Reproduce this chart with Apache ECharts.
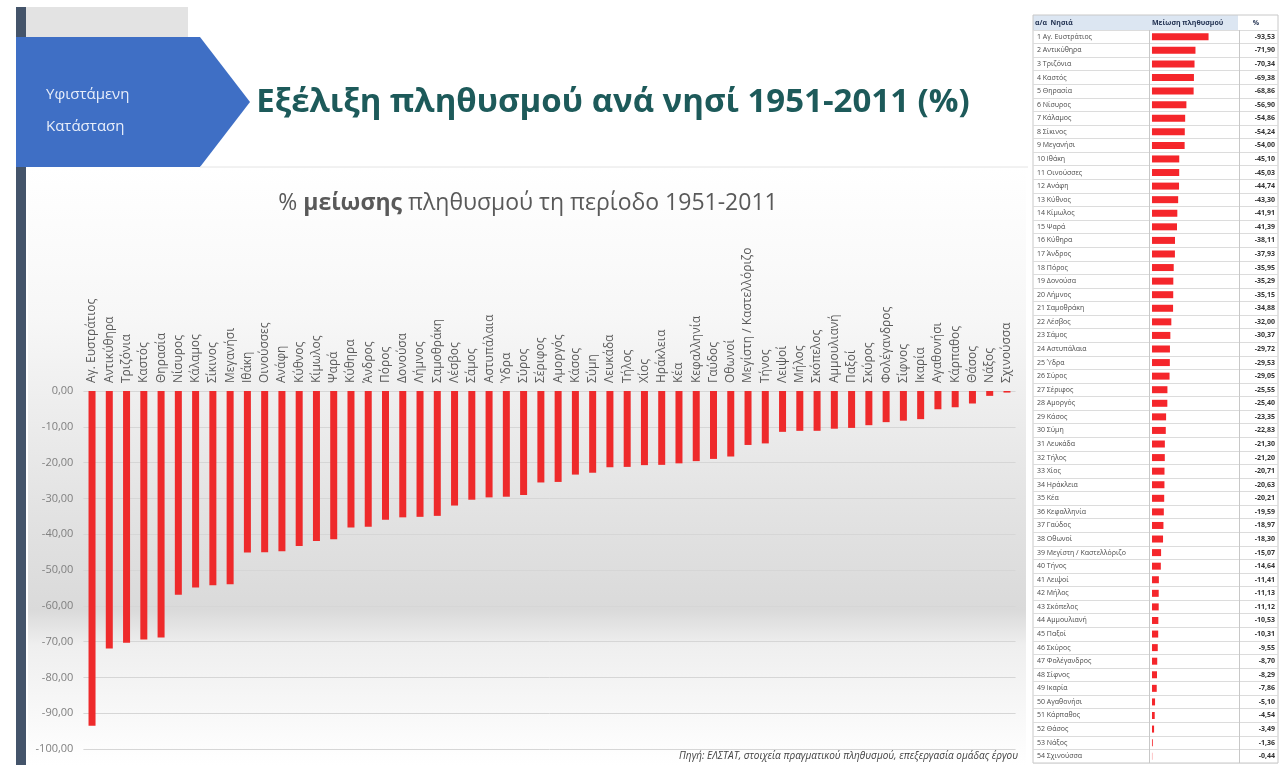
<!DOCTYPE html>
<html>
<head>
<meta charset="utf-8">
<script src="https://cdn.jsdelivr.net/npm/echarts@6/dist/echarts.min.js"></script>
<style>
html,body{margin:0;padding:0;background:#fff;}
#c{width:1281px;height:765px;}
</style>
</head>
<body>
<div id="c"></div>
<script>
var islands = ["Αγ. Ευστράτιος","Αντικύθηρα","Τριζόνια","Καστός","Θηρασία","Νίσυρος","Κάλαμος","Σίκινος","Μεγανήσι","Ιθάκη","Οινούσσες","Ανάφη","Κύθνος","Κίμωλος","Ψαρά","Κύθηρα","Άνδρος","Πόρος","Δονούσα","Λήμνος","Σαμοθράκη","Λέσβος","Σάμος","Αστυπάλαια","Ύδρα","Σύρος","Σέριφος","Αμοργός","Κάσος","Σύμη","Λευκάδα","Τήλος","Χίος","Ηράκλεια","Κέα","Κεφαλληνία","Γαύδος","Οθωνοί","Μεγίστη / Καστελλόριζο","Τήνος","Λειψοί","Μήλος","Σκόπελος","Αμμουλιανή","Παξοί","Σκύρος","Φολέγανδρος","Σίφνος","Ικαρία","Αγαθονήσι","Κάρπαθος","Θάσος","Νάξος","Σχινούσσα"];
var change = [-93.53,-71.90,-70.34,-69.38,-68.86,-56.90,-54.86,-54.24,-54.00,-45.10,-45.03,-44.74,-43.30,-41.91,-41.39,-38.11,-37.93,-35.95,-35.29,-35.15,-34.88,-32.00,-30.37,-29.72,-29.53,-29.05,-25.55,-25.40,-23.35,-22.83,-21.30,-21.20,-20.71,-20.63,-20.21,-19.59,-18.97,-18.30,-15.07,-14.64,-11.41,-11.13,-11.12,-10.53,-10.31,-9.55,-8.70,-8.29,-7.86,-5.10,-4.54,-3.49,-1.36,-0.44];
var yTicks = {min:-100, max:0, interval:10};
var tableHeader = ["α/α  Νησιά","Μείωση πληθυσμού","%"];
var titleText = "Εξέλιξη πληθυσμού ανά νησί 1951-2011 (%)";
var sourceText = "Πηγή: ΕΛΣΤΑΤ, στοιχεία πραγματικού πληθυσμού, επεξεργασία ομάδας έργου";

function fmt(v){ return v.toFixed(2).replace('.', ','); }

var chart = echarts.init(document.getElementById('c'), null, {renderer:'canvas'});
var font = "'Open Sans', 'Noto Sans', sans-serif";

var option = {
  animation:false,
  backgroundColor:'#ffffff',
  textStyle:{fontFamily:font},
  graphic:[
    {type:'rect', z:-10, silent:true, shape:{x:28,y:168,width:998,height:597},
     style:{fill:new echarts.graphic.LinearGradient(0,0,0,1,[
       {offset:0,color:'#ffffff'},{offset:0.25,color:'#f7f7f7'},{offset:0.55,color:'#e4e4e4'},
       {offset:0.74,color:'#dadada'},{offset:0.80,color:'#efefef'},{offset:1,color:'#ffffff'}])}},
    {type:'rect', silent:true, shape:{x:16,y:7,width:10,height:758}, style:{fill:'#44546a'}},
    {type:'rect', silent:true, shape:{x:26,y:7,width:162,height:30}, style:{fill:'#e3e3e3'}},
    {type:'polygon', silent:true, shape:{points:[[16,37],[200,37],[250,102],[200,167],[16,167]]}, style:{fill:'#3f6fc5'}},
    {type:'text', silent:true, style:{x:46,y:95,text:'Υφιστάμενη',fill:'#e8eefa',font:"15px 'Open Sans', sans-serif",verticalAlign:'middle'}},
    {type:'text', silent:true, style:{x:46,y:127,text:'Κατάσταση',fill:'#e8eefa',font:"15px 'Open Sans', sans-serif",verticalAlign:'middle'}},
    {type:'line', silent:true, shape:{x1:200,y1:167,x2:1028,y2:167}, style:{stroke:'#e4e4e4',lineWidth:1}},
    {type:'text', silent:true, style:{x:613,y:103,text:titleText,fill:'#1d5a5a',font:"bold 33px 'Open Sans', sans-serif",align:'center',verticalAlign:'middle'}},
    {type:'text', silent:true, style:{x:528,y:203,align:'center',verticalAlign:'middle',
      text:'% {b|μείωσης} πληθυσμού τη περίοδο 1951-2011',fill:'#595959',font:"23px 'Open Sans', sans-serif",
      rich:{b:{fontWeight:'bold',fontSize:23,fill:'#595959',fontFamily:font}}}},
    {type:'text', silent:true, style:{x:1018,y:756,text:sourceText,fill:'#404040',font:"italic 10px 'Open Sans', sans-serif",align:'right',verticalAlign:'middle'}},
    {type:'rect', silent:true, shape:{x:1033,y:15,width:205,height:15}, style:{fill:'#dce6f2'}},
    {type:'rect', silent:true, shape:{x:1033,y:15,width:245,height:748}, style:{fill:'none',stroke:'#c8c8c8',lineWidth:1}},
    {type:'text', silent:true, style:{x:1035,y:23,text:tableHeader[0],fill:'#1f2f4f',font:"bold 7px 'Open Sans', sans-serif",verticalAlign:'middle'}},
    {type:'text', silent:true, style:{x:1152,y:23,text:tableHeader[1],fill:'#1f2f4f',font:"bold 7px 'Open Sans', sans-serif",verticalAlign:'middle'}},
    {type:'text', silent:true, style:{x:1256,y:23,text:tableHeader[2],fill:'#1f2f4f',font:"bold 7px 'Open Sans', sans-serif",align:'center',verticalAlign:'middle'}}
  ],
  grid:[
    {left:83.4, right:265.4, top:391, bottom:16},
    {left:1033, right:3, top:30, height:733}
  ],
  xAxis:[
    {type:'category', gridIndex:0, position:'top', data:islands,
     axisLine:{show:false}, axisTick:{show:false},
     axisLabel:{interval:0, rotate:90, margin:8, color:'#5a5a5a', fontSize:12, fontFamily:font}},
    {type:'value', gridIndex:1, min:-196.67, max:208.33, show:false, splitLine:{show:false}}
  ],
  yAxis:[
    {type:'value', gridIndex:0, min:yTicks.min, max:yTicks.max, interval:yTicks.interval,
     axisLine:{show:false}, axisTick:{show:false},
     axisLabel:{formatter:fmt, color:'#808080', fontSize:11, margin:10, fontFamily:font},
     splitLine:{lineStyle:{color:'#d6d6d6'}}},
    {type:'category', gridIndex:1, data:islands, inverse:true, position:'left',
     axisLine:{show:false}, axisTick:{show:false},
     axisLabel:{inside:true, margin:4, color:'#4a4a4a', fontSize:7, fontFamily:font,
       formatter:function(v,i){ return (i+1)+' '+v; }},
     splitLine:{show:true, interval:0, lineStyle:{color:'#dcdcdc'}}},
    {type:'category', gridIndex:1, data:islands, inverse:true, position:'right',
     axisLine:{show:false}, axisTick:{show:false},
     axisLabel:{inside:true, margin:3, color:'#333', fontSize:7, fontWeight:'bold', fontFamily:font,
       formatter:function(v,i){ return fmt(change[i]); }}}
  ],
  series:[
    {type:'bar', xAxisIndex:0, yAxisIndex:0, data:change, barWidth:7,
     itemStyle:{color:'#ee2a2b'}},
    {type:'bar', xAxisIndex:1, yAxisIndex:1, data:change.map(function(v){return Math.abs(v);}), barWidth:7,
     itemStyle:{color:'#f5262b'},
     markLine:{silent:true, symbol:'none', label:{show:false},
       lineStyle:{color:'#c8c8c8', type:'solid', width:1},
       data:[{xAxis:-5},{xAxis:145}]}}
  ]
};
chart.setOption(option);
</script>
</body>
</html>
